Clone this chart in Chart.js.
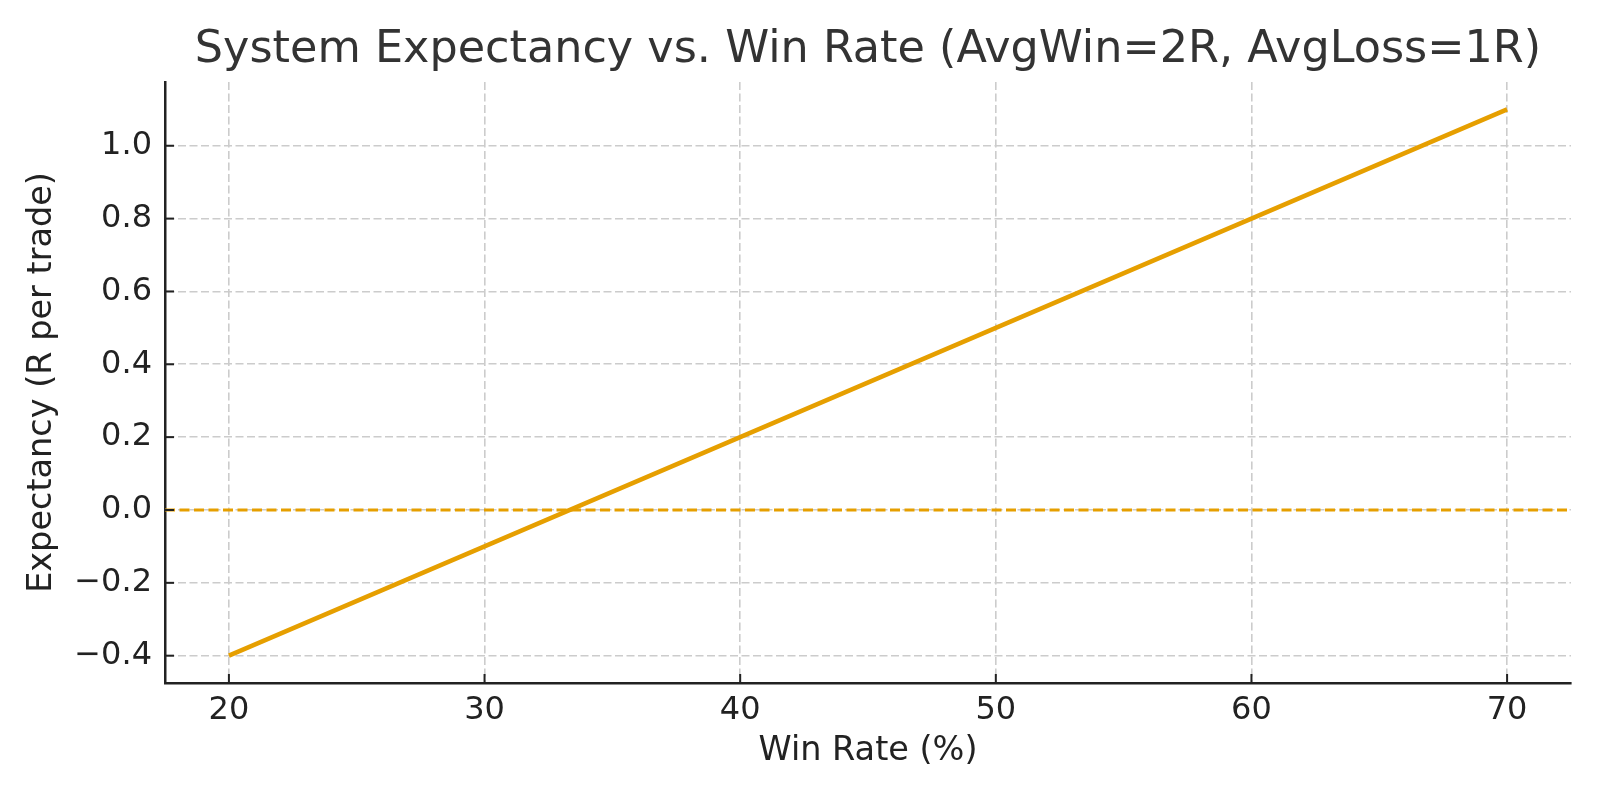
<!DOCTYPE html>
<html>
<head>
<meta charset="utf-8">
<script src="https://cdn.jsdelivr.net/npm/chart.js@4/dist/chart.umd.min.js"></script>
<style>
  html, body { margin: 0; padding: 0; background: #ffffff; }
  #wrap { width: 1600px; height: 800px; }
</style>
</head>
<body>
<div id="wrap"><canvas id="chart-expectancy"></canvas></div>
<script>
// Data
const winRate = [20, 30, 40, 50, 60, 70];
const expectancy = [-0.4, -0.1, 0.2, 0.5, 0.8, 1.1];
const breakEven = 0;

const xLimits = [17.5, 72.5];
const yLimits = [-0.475, 1.175];

const LINE_COLOR = '#E69F00';
const AXIS_COLOR = '#222222';
const GRID_COLOR = '#cccccc';
const FONT = 'DejaVu Sans';

/**
 * Format tick labels like matplotlib (one decimal, unicode minus)
 */
function fmtY(v) {
    if (Math.abs(v) < 1e-9) v = 0;
    return v.toFixed(1).replace('-', '\u2212');
}

/**
 * Dashed break-even line across the plot at y = 0
 */
const refLinePlugin = {
    id: 'refLine',
    afterDatasetsDraw(chart) {
        const { ctx, chartArea, scales } = chart;
        const y = scales.y.getPixelForValue(breakEven);
        ctx.save();
        ctx.strokeStyle = LINE_COLOR;
        ctx.lineWidth = 3;
        ctx.setLineDash([10, 4.5]);
        ctx.beginPath();
        ctx.moveTo(chartArea.left, y);
        ctx.lineTo(chartArea.right, y);
        ctx.stroke();
        ctx.restore();
    }
};

/**
 * Inward tick marks (matplotlib direction='in')
 */
const innerTicksPlugin = {
    id: 'innerTicks',
    afterDraw(chart) {
        const { ctx, chartArea, scales } = chart;
        const len = 9;
        ctx.save();
        ctx.strokeStyle = AXIS_COLOR;
        ctx.lineWidth = 2;
        scales.x.ticks.forEach(t => {
            const x = scales.x.getPixelForValue(t.value);
            ctx.beginPath();
            ctx.moveTo(x, chartArea.bottom);
            ctx.lineTo(x, chartArea.bottom - len);
            ctx.stroke();
        });
        scales.y.ticks.forEach(t => {
            const y = scales.y.getPixelForValue(t.value);
            ctx.beginPath();
            ctx.moveTo(chartArea.left, y);
            ctx.lineTo(chartArea.left + len, y);
            ctx.stroke();
        });
        ctx.restore();
    }
};

const ctx = document.getElementById('chart-expectancy');

new Chart(ctx, {
    type: 'line',
    data: {
        datasets: [{
            label: 'Expectancy',
            data: winRate.map((w, i) => ({ x: w, y: expectancy[i] })),
            borderColor: LINE_COLOR,
            backgroundColor: LINE_COLOR,
            borderWidth: 4.5,
            pointRadius: 0,
            tension: 0,
            fill: false,
        }]
    },
    options: {
        responsive: true,
        maintainAspectRatio: false,
        animation: false,
        layout: {
            padding: { left: 0, right: 29, top: 0, bottom: 0 }
        },
        plugins: {
            legend: { display: false },
            tooltip: { enabled: false },
            title: {
                display: true,
                text: 'System Expectancy vs. Win Rate (AvgWin=2R, AvgLoss=1R)',
                color: '#333333',
                fullSize: false,
                font: { family: FONT, size: 44.5, weight: 'normal', lineHeight: 1.2 },
                padding: { top: 24, bottom: 4.6 }
            }
        },
        scales: {
            x: {
                type: 'linear',
                min: xLimits[0],
                max: xLimits[1],
                afterFit: (scale) => { scale.height = 117; },
                ticks: {
                    stepSize: 10,
                    includeBounds: false,
                    color: AXIS_COLOR,
                    padding: 8,
                    maxRotation: 0,
                    font: { family: FONT, size: 32 },
                    callback: (v) => String(Math.round(v))
                },
                grid: {
                    color: GRID_COLOR,
                    lineWidth: 1.6,
                    drawTicks: false
                },
                border: {
                    display: true,
                    color: AXIS_COLOR,
                    width: 2.5,
                    dash: [8, 3.5]
                },
                title: {
                    display: true,
                    text: 'Win Rate (%)',
                    color: AXIS_COLOR,
                    font: { family: FONT, size: 33.5, lineHeight: 1.2 },
                    padding: { top: 0, bottom: 29 }
                }
            },
            y: {
                type: 'linear',
                min: yLimits[0],
                max: yLimits[1],
                afterFit: (scale) => { scale.width = 165; },
                ticks: {
                    stepSize: 0.2,
                    includeBounds: false,
                    color: AXIS_COLOR,
                    padding: 13,
                    font: { family: FONT, size: 32 },
                    callback: (v) => fmtY(v)
                },
                grid: {
                    color: GRID_COLOR,
                    lineWidth: 1.6,
                    drawTicks: false
                },
                border: {
                    display: true,
                    color: AXIS_COLOR,
                    width: 2.5,
                    dash: [8, 3.5]
                },
                title: {
                    display: true,
                    text: 'Expectancy (R per trade)',
                    color: AXIS_COLOR,
                    font: { family: FONT, size: 33.5, lineHeight: 1.2 },
                    padding: { top: 22, bottom: 0 }
                }
            }
        }
    },
    plugins: [refLinePlugin, innerTicksPlugin]
});
</script>
</body>
</html>
